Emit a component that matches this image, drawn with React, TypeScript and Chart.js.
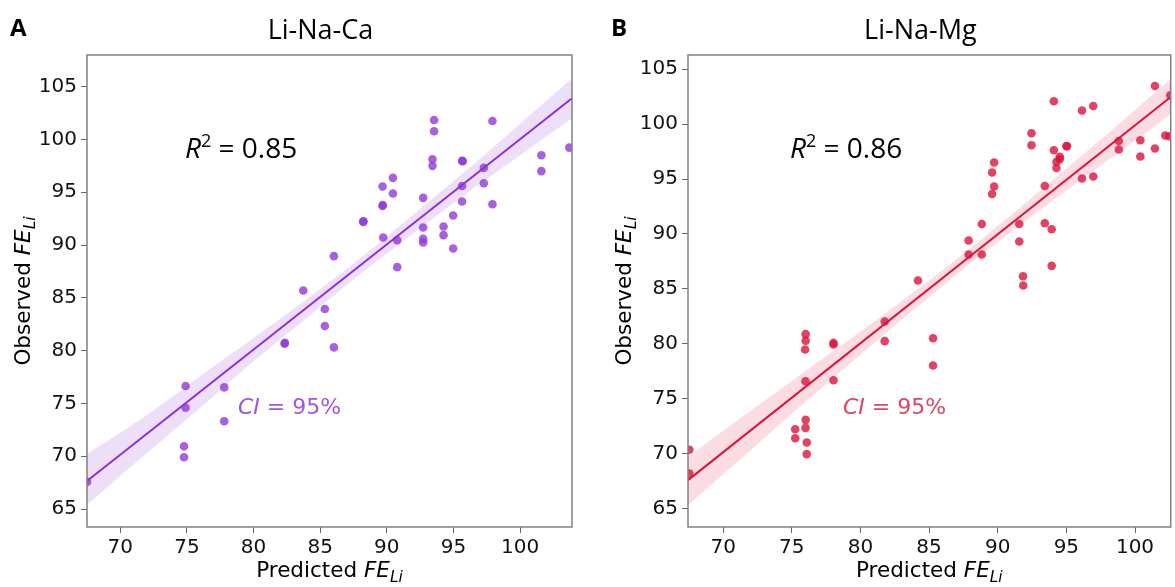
import React, { useEffect, useRef } from "react";
import { Chart, registerables } from "chart.js";

Chart.register(...registerables);

// ---------- Data ----------
const caPredicted = [
  93.55, 93.55, 97.93, 103.7, 101.6, 101.6, 93.43, 93.43, 95.65, 95.7, 97.28, 97.28,
  95.65, 95.65, 97.93, 90.46, 89.68, 90.46, 89.68, 89.7, 92.73, 88.23, 88.25, 92.73,
  94.98, 94.26, 94.26, 92.73, 92.73, 89.73, 90.78, 94.98, 86.03, 90.78, 83.73, 85.35,
  85.35, 82.33, 82.35, 86.03, 74.9, 77.8, 74.9, 77.8, 74.78, 74.78, 67.5,
];
const caObserved = [
  101.85, 100.78, 101.75, 99.23, 98.5, 97.0, 98.13, 97.5, 97.97, 97.95, 97.31, 95.86,
  95.6, 94.12, 93.87, 96.36, 95.54, 94.88, 93.71, 93.8, 94.47, 92.2, 92.25, 91.66,
  92.8, 91.76, 90.94, 90.59, 90.24, 90.71, 90.47, 89.67, 88.95, 87.91, 85.7, 83.94,
  82.33, 80.66, 80.75, 80.31, 76.66, 76.52, 74.6, 73.31, 70.94, 69.9, 67.57,
];

const mgPredicted = [
  101.45, 102.57, 94.09, 96.14, 96.96, 92.46, 92.46, 94.09, 95.0, 95.05, 94.52, 94.28,
  94.28, 94.52, 89.74, 89.59, 89.74, 89.59, 98.82, 98.82, 100.39, 100.39, 101.45, 102.2,
  102.5, 96.14, 96.96, 93.43, 91.57, 93.43, 93.93, 88.84, 87.88, 91.57, 87.88, 88.84,
  93.93, 84.19, 91.84, 91.86, 81.77, 81.77, 85.29, 85.29, 76.01, 76.01, 75.97, 78.04,
  78.04, 76.0, 78.04, 76.01, 76.0, 75.25, 75.25, 76.09, 76.09, 67.54, 67.54,
];
const mgObserved = [
  103.48, 102.63, 102.09, 101.24, 101.66, 99.17, 98.08, 97.62, 97.99, 98.0, 97.02, 96.56,
  96.01, 96.8, 96.5, 95.59, 94.32, 93.64, 98.47, 97.69, 98.53, 97.05, 97.78, 98.96,
  98.9, 95.05, 95.23, 94.37, 90.91, 90.97, 90.43, 90.91, 89.4, 89.31, 88.12, 88.12,
  87.09, 85.75, 86.15, 85.3, 82.02, 80.23, 80.5, 78.01, 80.87, 80.26, 79.47, 80.07,
  79.93, 76.58, 76.67, 73.06, 72.33, 72.21, 71.39, 71.0, 69.94, 70.33, 68.18,
];

// regression fit lines (end points)
const caFitX = [67.5, 103.9];
const caFitY = [67.65, 103.9];
const mgFitX = [67.44, 102.6];
const mgFitY = [67.57, 102.48];

// 95% confidence bands
const caBandX = [67.5, 72, 76, 80, 84, 88, 92, 96, 100, 103.9];
const caBandUpper = [70.2, 73.9, 77.6, 81.2, 84.9, 88.75, 92.9, 97.1, 101.5, 105.8];
const caBandLower = [65.4, 70.3, 74.6, 79.0, 83.1, 87.25, 91.1, 94.9, 98.5, 102.0];
const mgBandX = [67.44, 72, 76, 80, 84, 88, 92, 96, 100, 102.6];
const mgBandUpper = [69.7, 73.9, 77.5, 81.1, 84.8, 88.7, 92.8, 97.0, 101.3, 104.1];
const mgBandLower = [65.3, 70.3, 74.7, 79.0, 83.2, 87.3, 91.15, 94.86, 98.5, 100.9];

const xTickValues = [70, 75, 80, 85, 90, 95, 100];
const yTickValues = [65, 70, 75, 80, 85, 90, 95, 100, 105];

const panelLetters = ["A", "B"];
const panelTitles = ["Li-Na-Ca", "Li-Na-Mg"];
const r2Labels = ["0.85", "0.86"];
const ciLabel = "95%";

type Panel = {
  letter: string;
  title: string;
  r2: string;
  px: number[];
  py: number[];
  fitX: number[];
  fitY: number[];
  bandX: number[];
  bandU: number[];
  bandL: number[];
  xMin: number;
  xMax: number;
  yMin: number;
  yMax: number;
  line: string;
  point: string;
  band: string;
  text: string;
  yAxisWidth: number;
  padRight: number;
  r2Dx: number;
  ciDx: number;
};

const panels: Panel[] = [
  {
    letter: panelLetters[0], title: panelTitles[0], r2: r2Labels[0],
    px: caPredicted, py: caObserved, fitX: caFitX, fitY: caFitY,
    bandX: caBandX, bandU: caBandUpper, bandL: caBandLower,
    xMin: 67.5, xMax: 103.9, yMin: 63.3, yMax: 108.0,
    line: "#8E2FDC", point: "rgba(146,56,214,0.8)", band: "rgba(146,56,214,0.16)", text: "rgb(163,84,222)",
    yAxisWidth: 87, padRight: 18, r2Dx: 98, ciDx: 151,
  },
  {
    letter: panelLetters[1], title: panelTitles[1], r2: r2Labels[1],
    px: mgPredicted, py: mgObserved, fitX: mgFitX, fitY: mgFitY,
    bandX: mgBandX, bandU: mgBandUpper, bandL: mgBandLower,
    xMin: 67.44, xMax: 102.6, yMin: 63.3, yMax: 106.3,
    line: "#DC143C", point: "rgba(220,20,60,0.8)", band: "rgba(220,20,60,0.15)", text: "rgb(227,67,99)",
    yAxisWidth: 98, padRight: 2, r2Dx: 102, ciDx: 155,
  },
];

type Part = { text: string; font: string; dy?: number };

function drawRich(ctx: CanvasRenderingContext2D, parts: Part[], x: number, y: number, align: "left" | "center") {
  let total = 0;
  const widths = parts.map((p) => {
    ctx.font = p.font;
    const w = ctx.measureText(p.text).width;
    total += w;
    return w;
  });
  let cx = align === "center" ? x - total / 2 : x;
  ctx.textAlign = "left";
  ctx.textBaseline = "alphabetic";
  parts.forEach((p, i) => {
    ctx.font = p.font;
    ctx.fillText(p.text, cx, y + (p.dy || 0));
    cx += widths[i];
  });
}

function makeChart(canvas: HTMLCanvasElement, p: Panel) {
  const decor = {
    id: "decor",
    afterDraw(chart: any) {
      const ctx: CanvasRenderingContext2D = chart.ctx;
      const a = chart.chartArea;
      ctx.save();
      // frame
      ctx.strokeStyle = "#808080";
      ctx.lineWidth = 1.5;
      ctx.strokeRect(a.left, a.top, a.right - a.left, a.bottom - a.top);

      ctx.fillStyle = "#000";
      // panel letter
      drawRich(ctx, [{ text: p.letter, font: "bold 24px 'Open Sans'" }], a.left - 77, 36, "left");
      // title
      drawRich(ctx, [{ text: p.title, font: "27px 'Open Sans'" }], (a.left + a.right) / 2 - 9, 39, "center");
      // R^2
      drawRich(
        ctx,
        [
          { text: "R", font: "italic 28px 'Open Sans'" },
          { text: "2", font: "18px 'Open Sans'", dy: -11 },
          { text: " = " + p.r2, font: "28px 'Open Sans'" },
        ],
        a.left + p.r2Dx,
        158,
        "left"
      );
      // CI
      ctx.fillStyle = p.text;
      drawRich(
        ctx,
        [
          { text: "CI", font: "italic 22px 'DejaVu Sans'" },
          { text: " = " + ciLabel, font: "22px 'DejaVu Sans'" },
        ],
        a.left + p.ciDx,
        414,
        "left"
      );
      // x title
      ctx.fillStyle = "#000";
      drawRich(
        ctx,
        [
          { text: "Predicted ", font: "21.5px 'DejaVu Sans'" },
          { text: "FE", font: "italic 21.5px 'DejaVu Sans'" },
          { text: "Li", font: "italic 15.5px 'DejaVu Sans'", dy: 5 },
        ],
        (a.left + a.right) / 2,
        577,
        "center"
      );
      // y title
      ctx.save();
      ctx.translate(a.left - 57, (a.top + a.bottom) / 2);
      ctx.rotate(-Math.PI / 2);
      drawRich(
        ctx,
        [
          { text: "Observed ", font: "21.5px 'DejaVu Sans'" },
          { text: "FE", font: "italic 21.5px 'DejaVu Sans'" },
          { text: "Li", font: "italic 15.5px 'DejaVu Sans'", dy: 5 },
        ],
        0,
        0,
        "center"
      );
      ctx.restore();
      ctx.restore();
    },
  };

  const pts = p.px.map((x, i) => ({ x, y: p.py[i] }));
  const fit = p.fitX.map((x, i) => ({ x, y: p.fitY[i] }));
  const up = p.bandX.map((x, i) => ({ x, y: p.bandU[i] }));
  const lo = p.bandX.map((x, i) => ({ x, y: p.bandL[i] }));

  const tickFont = { family: "'DejaVu Sans'", size: 20 };

  return new Chart(canvas, {
    type: "scatter",
    data: {
      datasets: [
        { type: "line", data: fit, borderColor: p.line, borderWidth: 2, pointRadius: 0, fill: false, clip: 0 } as any,
        { type: "line", data: up, borderWidth: 0, borderColor: "rgba(0,0,0,0)", pointRadius: 0, fill: false, clip: 0, tension: 0.3 } as any,
        { type: "line", data: lo, borderWidth: 0, borderColor: "rgba(0,0,0,0)", pointRadius: 0, fill: "-1", backgroundColor: p.band, clip: 0, tension: 0.3 } as any,
        { type: "scatter", data: pts, backgroundColor: p.point, borderWidth: 0, pointRadius: 4.3, clip: 0 } as any,
      ],
    },
    options: {
      responsive: false,
      animation: false,
      devicePixelRatio: 1,
      layout: { padding: { left: 0, right: p.padRight, top: 55, bottom: 0 } },
      plugins: { legend: { display: false }, tooltip: { enabled: false }, title: { display: false } },
      scales: {
        x: {
          type: "linear",
          min: p.xMin,
          max: p.xMax,
          afterBuildTicks: (s: any) => {
            s.ticks = xTickValues.map((v) => ({ value: v }));
          },
          afterFit: (s: any) => {
            s.height = 60;
          },
          grid: { display: true, drawOnChartArea: false, drawTicks: true, tickLength: 6, color: "#666" },
          border: { display: false },
          ticks: { font: tickFont, color: "#111", padding: 3, maxRotation: 0, autoSkip: false, includeBounds: false },
        },
        y: {
          type: "linear",
          min: p.yMin,
          max: p.yMax,
          afterBuildTicks: (s: any) => {
            s.ticks = yTickValues.map((v) => ({ value: v }));
          },
          afterFit: (s: any) => {
            s.width = p.yAxisWidth;
          },
          grid: { display: true, drawOnChartArea: false, drawTicks: true, tickLength: 6, color: "#666" },
          border: { display: false },
          ticks: { font: tickFont, color: "#111", padding: 4, autoSkip: false, includeBounds: false },
        },
      },
    },
    plugins: [decor],
  } as any);
}

export default function App() {
  const leftRef = useRef<HTMLCanvasElement>(null);
  const rightRef = useRef<HTMLCanvasElement>(null);

  useEffect(() => {
    const charts: Chart[] = [];
    if (leftRef.current) charts.push(makeChart(leftRef.current, panels[0]));
    if (rightRef.current) charts.push(makeChart(rightRef.current, panels[1]));
    return () => charts.forEach((c) => c.destroy());
  }, []);

  return (
    <div style={{ position: "absolute", left: 0, top: 0, width: 1175, height: 587, background: "#fff" }}>
      <canvas ref={leftRef} width={590} height={587} style={{ position: "absolute", left: 0, top: 0, width: 590, height: 587 }} />
      <canvas ref={rightRef} width={585} height={587} style={{ position: "absolute", left: 590, top: 0, width: 585, height: 587 }} />
    </div>
  );
}
